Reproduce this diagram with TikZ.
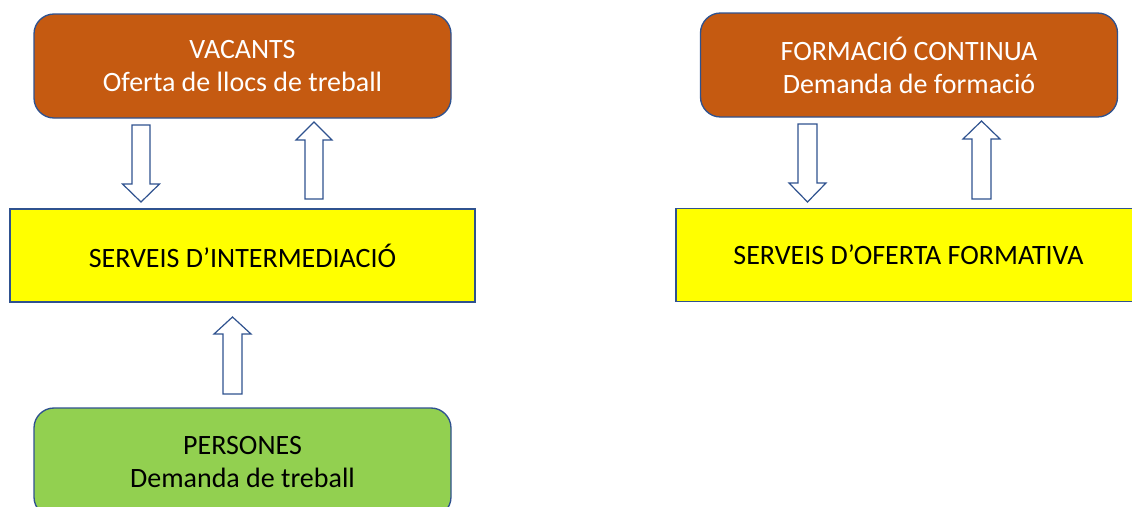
\documentclass[tikz,border=0pt]{standalone}
\usepackage{fontspec}
\setmainfont{Carlito}
\definecolor{brownfill}{HTML}{C55A11}
\definecolor{greenfill}{HTML}{92D050}
\definecolor{yellowfill}{HTML}{FFFF00}
\definecolor{edgeblue}{HTML}{2F528F}
\tikzset{
  boxtext/.style={font=\fontsize{21}{24.75}\selectfont, align=center, inner sep=0pt},
  topbox/.style={boxtext, draw=edgeblue, line width=1pt, fill=brownfill, text=white, rounded corners=15pt, minimum width=312.75pt, minimum height=78pt},
  personbox/.style={boxtext, draw=edgeblue, line width=1pt, fill=greenfill, text=black, rounded corners=15pt, minimum width=312.75pt, minimum height=81.75pt},
  servicebox/.style={boxtext, draw=edgeblue, line width=1pt, fill=yellowfill, text=black, minimum width=348.75pt, minimum height=69.75pt},
  blockarrow/.style={draw=edgeblue, line width=0.9pt, fill=white, line join=miter}
}
\begin{document}
\begin{tikzpicture}[x=0.75pt,y=0.75pt,yscale=-1]
\useasboundingbox (0,0) rectangle (1132,507);
\clip (0,0) rectangle (1132,507);

% Left column
\node[topbox] (vacants) at (242.5,66) {VACANTS\\Oferta de llocs de treball};
\node[servicebox] (intermed) at (242.5,255.5) {SERVEIS D’INTERMEDIACIÓ};
\node[personbox] (persones) at (242.5,462.5) {PERSONES\\Demanda de treball};

% Right column (service box runs off the right edge)
\node[topbox] (formacio) at (909,65) {FORMACIÓ CONTINUA\\Demanda de formació};
\draw[draw=edgeblue, line width=1pt, fill=yellowfill] (676,208.5) rectangle (1160,301.5);
\node[boxtext] (oferta) at (908.5,255) {SERVEIS D’OFERTA FORMATIVA};

%Block Arrow: down, vacants to intermed
\draw[blockarrow] (132,125) -- (150,125) -- (150,184) -- (159.5,184) -- (141,202) -- (122.5,184) -- (132,184) -- cycle;
%Block Arrow: up, intermed to vacants
\draw[blockarrow] (305,199) -- (323,199) -- (323,140) -- (332,140) -- (314,122) -- (296,140) -- (305,140) -- cycle;
%Block Arrow: up, persones to intermed
\draw[blockarrow] (223,394) -- (242,394) -- (242,334) -- (251,334) -- (232.5,317) -- (214,334) -- (223,334) -- cycle;
%Block Arrow: down, formacio to oferta
\draw[blockarrow] (798,124) -- (817,124) -- (817,183) -- (826,183) -- (807.5,202) -- (789,183) -- (798,183) -- cycle;
%Block Arrow: up, oferta to formacio
\draw[blockarrow] (972,199) -- (991,199) -- (991,139) -- (1000,139) -- (981.5,121) -- (963,139) -- (972,139) -- cycle;

\end{tikzpicture}
\end{document}
